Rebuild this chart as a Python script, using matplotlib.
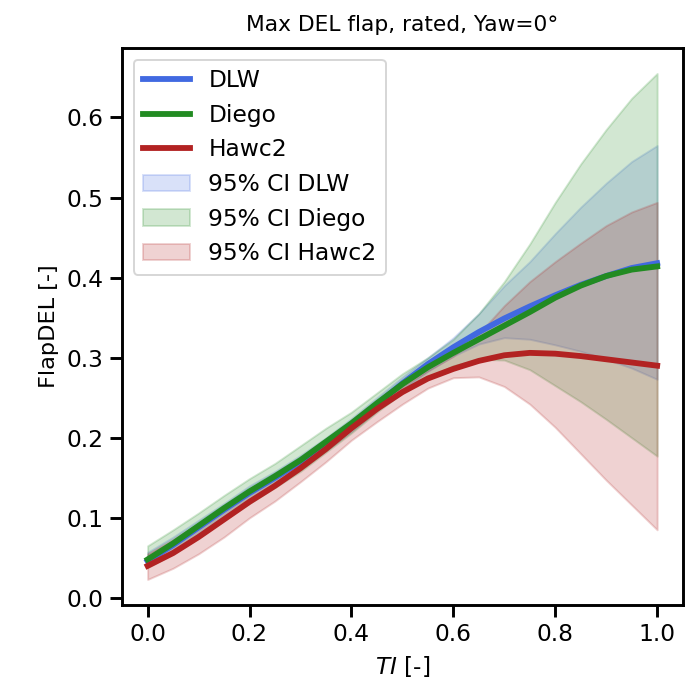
import matplotlib.pyplot as plt
import numpy as np

ti = np.round(np.arange(0, 1.0001, 0.05), 2)

dlw = [0.046, 0.066, 0.088, 0.110, 0.131, 0.150, 0.170, 0.192, 0.216, 0.242, 0.268,
       0.292, 0.313, 0.332, 0.349, 0.364, 0.378, 0.391, 0.402, 0.412, 0.418]
diego = [0.048, 0.068, 0.090, 0.112, 0.133, 0.152, 0.172, 0.195, 0.218, 0.243, 0.267,
         0.288, 0.306, 0.323, 0.340, 0.357, 0.375, 0.390, 0.402, 0.410, 0.414]
hawc2 = [0.040, 0.056, 0.076, 0.098, 0.120, 0.140, 0.162, 0.186, 0.212, 0.236, 0.257,
         0.274, 0.286, 0.296, 0.303, 0.306, 0.305, 0.302, 0.298, 0.294, 0.290]

dlw_lo = [0.040, 0.058, 0.080, 0.102, 0.122, 0.142, 0.162, 0.184, 0.208, 0.234, 0.260,
          0.283, 0.302, 0.317, 0.325, 0.323, 0.316, 0.308, 0.298, 0.287, 0.273]
dlw_hi = [0.057, 0.076, 0.097, 0.118, 0.140, 0.158, 0.178, 0.200, 0.224, 0.250, 0.276,
          0.300, 0.325, 0.355, 0.390, 0.420, 0.455, 0.488, 0.518, 0.545, 0.565]
diego_lo = [0.038, 0.055, 0.075, 0.097, 0.118, 0.138, 0.158, 0.182, 0.206, 0.232, 0.256,
            0.275, 0.290, 0.298, 0.297, 0.285, 0.265, 0.245, 0.223, 0.200, 0.177]
diego_hi = [0.065, 0.085, 0.106, 0.128, 0.149, 0.168, 0.190, 0.212, 0.232, 0.256, 0.280,
            0.300, 0.323, 0.355, 0.395, 0.442, 0.494, 0.542, 0.585, 0.624, 0.655]
hawc2_lo = [0.023, 0.037, 0.055, 0.076, 0.100, 0.121, 0.145, 0.170, 0.197, 0.220, 0.242,
            0.262, 0.275, 0.276, 0.264, 0.242, 0.213, 0.180, 0.147, 0.116, 0.085]
hawc2_hi = [0.055, 0.073, 0.093, 0.115, 0.134, 0.153, 0.174, 0.197, 0.220, 0.242, 0.264,
            0.284, 0.302, 0.330, 0.365, 0.395, 0.420, 0.443, 0.465, 0.482, 0.494]

names = ['DLW', 'Diego', 'Hawc2']
colors = ['royalblue', 'forestgreen', 'firebrick']

fig = plt.figure(figsize=(698 / 140, 688 / 140), dpi=140)
ax = fig.add_axes([0.175, 0.121, 0.803, 0.809])

lines = []
for y, c, n in zip([dlw, diego, hawc2], colors, names):
    l, = ax.plot(ti, y, color=c, lw=3, label=n)
    lines.append(l)

fills = []
for lo, hi, c, n in zip([dlw_lo, diego_lo, hawc2_lo], [dlw_hi, diego_hi, hawc2_hi], colors, names):
    f = ax.fill_between(ti, lo, hi, color=c, alpha=0.2, label='95% CI ' + n)
    fills.append(f)

ax.set_title('Max DEL flap, rated, Yaw=0°', fontsize=11.2, pad=9)
ax.set_xlabel('$TI$ [-]', fontsize=12)
ax.set_ylabel('FlapDEL [-]', fontsize=11.5)
ax.tick_params(labelsize=12, width=1.5, length=6)
for s in ax.spines.values():
    s.set_linewidth(1.5)
ax.legend(handles=lines + fills, loc='upper left', fontsize=12)

plt.savefig('out.png', dpi=140)
